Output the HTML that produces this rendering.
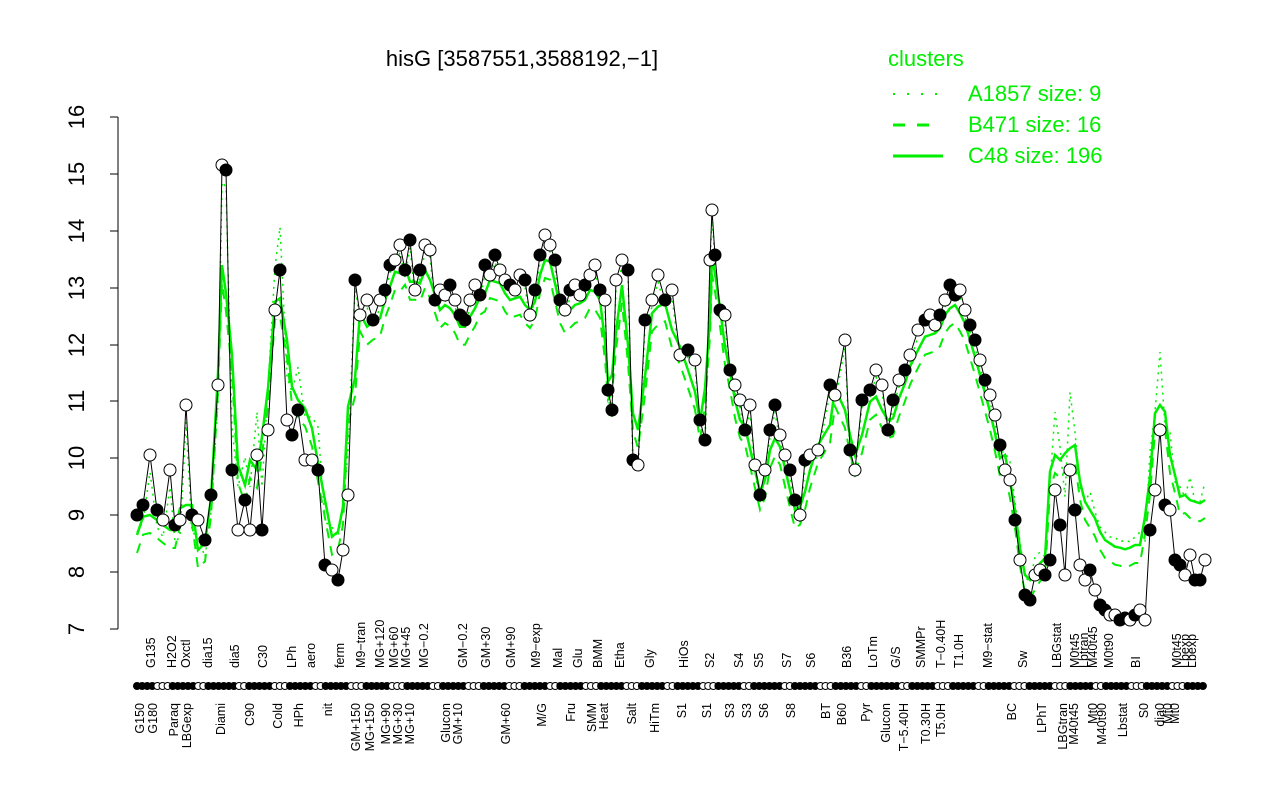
<!DOCTYPE html>
<html><head><meta charset="utf-8"><style>
html,body{margin:0;padding:0;background:#fff}
svg{display:block;font-family:"Liberation Sans",sans-serif}
.u{font-size:12.5px}
</style></head><body>
<svg id="s" width="1280" height="800" xmlns="http://www.w3.org/2000/svg">
<rect width="1280" height="800" fill="#fff"/>
<text x="522" y="66" font-size="22" text-anchor="middle">hisG [3587551,3588192,−1]</text>
<g stroke="#000" stroke-width="1" fill="none">
<line x1="118" y1="117" x2="118" y2="629"/>
<line x1="110" y1="629" x2="118" y2="629"/><line x1="110" y1="572" x2="118" y2="572"/>
<line x1="110" y1="515" x2="118" y2="515"/><line x1="110" y1="458" x2="118" y2="458"/>
<line x1="110" y1="401" x2="118" y2="401"/><line x1="110" y1="345" x2="118" y2="345"/>
<line x1="110" y1="288" x2="118" y2="288"/><line x1="110" y1="231" x2="118" y2="231"/>
<line x1="110" y1="174" x2="118" y2="174"/><line x1="110" y1="117" x2="118" y2="117"/>
</g>
<g font-size="22" text-anchor="middle">
<text transform="translate(84,629) rotate(-90)">7</text>
<text transform="translate(84,572) rotate(-90)">8</text>
<text transform="translate(84,515) rotate(-90)">9</text>
<text transform="translate(84,458) rotate(-90)">10</text>
<text transform="translate(84,401) rotate(-90)">11</text>
<text transform="translate(84,345) rotate(-90)">12</text>
<text transform="translate(84,288) rotate(-90)">13</text>
<text transform="translate(84,231) rotate(-90)">14</text>
<text transform="translate(84,174) rotate(-90)">15</text>
<text transform="translate(84,117) rotate(-90)">16</text>
</g>
<g fill="#00ee00" font-size="22">
<text x="888" y="66">clusters</text>
<text x="968" y="101">A1857 size: 9</text>
<text x="968" y="132">B471 size: 16</text>
<text x="968" y="163">C48 size: 196</text>
</g>
<g stroke="#00ee00" stroke-width="3">
<line x1="893" y1="94" x2="940" y2="94" stroke-dasharray="2,12" stroke-width="2"/>
<line x1="893" y1="125" x2="940" y2="125" stroke-dasharray="12,12"/>
<line x1="893" y1="156" x2="943" y2="156"/>
</g>
<g id="plot"></g>
<g class="u" id="up">
<text transform="translate(155,668) rotate(-90)">G135</text>
<text transform="translate(176,668) rotate(-90)">H2O2</text>
<text transform="translate(190,668) rotate(-90)">Oxctl</text>
<text transform="translate(212,668) rotate(-90)">dia15</text>
<text transform="translate(239,668) rotate(-90)">dia5</text>
<text transform="translate(267,668) rotate(-90)">C30</text>
<text transform="translate(296,668) rotate(-90)">LPh</text>
<text transform="translate(315,668) rotate(-90)">aero</text>
<text transform="translate(344,668) rotate(-90)">ferm</text>
<text transform="translate(365,668) rotate(-90)">M9−tran</text>
<text transform="translate(384,668) rotate(-90)">MG+120</text>
<text transform="translate(398,668) rotate(-90)">MG+60</text>
<text transform="translate(410,668) rotate(-90)">MG+45</text>
<text transform="translate(428,668) rotate(-90)">MG−0.2</text>
<text transform="translate(467,668) rotate(-90)">GM−0.2</text>
<text transform="translate(490,668) rotate(-90)">GM+30</text>
<text transform="translate(515,668) rotate(-90)">GM+90</text>
<text transform="translate(540,668) rotate(-90)">M9−exp</text>
<text transform="translate(562,668) rotate(-90)">Mal</text>
<text transform="translate(582,668) rotate(-90)">Glu</text>
<text transform="translate(602,668) rotate(-90)">BMM</text>
<text transform="translate(624,668) rotate(-90)">Etha</text>
<text transform="translate(654,668) rotate(-90)">Gly</text>
<text transform="translate(688,668) rotate(-90)">HiOs</text>
<text transform="translate(714,668) rotate(-90)">S2</text>
<text transform="translate(743,668) rotate(-90)">S4</text>
<text transform="translate(763,668) rotate(-90)">S5</text>
<text transform="translate(791,668) rotate(-90)">S7</text>
<text transform="translate(815,668) rotate(-90)">S6</text>
<text transform="translate(851,668) rotate(-90)">B36</text>
<text transform="translate(877,668) rotate(-90)">LoTm</text>
<text transform="translate(900,668) rotate(-90)">G/S</text>
<text transform="translate(925,668) rotate(-90)">SMMPr</text>
<text transform="translate(945,668) rotate(-90)">T−0.40H</text>
<text transform="translate(963,668) rotate(-90)">T1.0H</text>
<text transform="translate(992,668) rotate(-90)">M9−stat</text>
<text transform="translate(1027,668) rotate(-90)">Sw</text>
<text transform="translate(1061,668) rotate(-90)">LBGstat</text>
<text transform="translate(1079,668) rotate(-90)">M0t45</text>
<text transform="translate(1088,668) rotate(-90)">Lbtran</text>
<text transform="translate(1097,668) rotate(-90)">M40t45</text>
<text transform="translate(1113,668) rotate(-90)">M0t90</text>
<text transform="translate(1140,668) rotate(-90)">BI</text>
<text transform="translate(1181,668) rotate(-90)">M0t45</text>
<text transform="translate(1189,668) rotate(-90)">Lbexp</text>
<text transform="translate(1196,668) rotate(-90)">Lbexp</text>
</g>
<g class="u" text-anchor="end">
<text transform="translate(144,703) rotate(-90)">G150</text>
<text transform="translate(157,703) rotate(-90)">G180</text>
<text transform="translate(178,703) rotate(-90)">Paraq</text>
<text transform="translate(191,703) rotate(-90)">LBGexp</text>
<text transform="translate(225,703) rotate(-90)">Diami</text>
<text transform="translate(254,703) rotate(-90)">C90</text>
<text transform="translate(282,703) rotate(-90)">Cold</text>
<text transform="translate(303,703) rotate(-90)">HPh</text>
<text transform="translate(332,703) rotate(-90)">nit</text>
<text transform="translate(360,703) rotate(-90)">GM+150</text>
<text transform="translate(374,703) rotate(-90)">MG+150</text>
<text transform="translate(390,703) rotate(-90)">MG+90</text>
<text transform="translate(402,703) rotate(-90)">MG+30</text>
<text transform="translate(414,703) rotate(-90)">MG+10</text>
<text transform="translate(450,703) rotate(-90)">Glucon</text>
<text transform="translate(462,703) rotate(-90)">GM+10</text>
<text transform="translate(510,703) rotate(-90)">GM+60</text>
<text transform="translate(546,703) rotate(-90)">M/G</text>
<text transform="translate(575,703) rotate(-90)">Fru</text>
<text transform="translate(596,703) rotate(-90)">SMM</text>
<text transform="translate(608,703) rotate(-90)">Heat</text>
<text transform="translate(636,703) rotate(-90)">Salt</text>
<text transform="translate(659,703) rotate(-90)">HiTm</text>
<text transform="translate(686,703) rotate(-90)">S1</text>
<text transform="translate(711,703) rotate(-90)">S1</text>
<text transform="translate(734,703) rotate(-90)">S3</text>
<text transform="translate(751,703) rotate(-90)">S3</text>
<text transform="translate(768,703) rotate(-90)">S6</text>
<text transform="translate(795,703) rotate(-90)">S8</text>
<text transform="translate(830,703) rotate(-90)">BT</text>
<text transform="translate(846,703) rotate(-90)">B60</text>
<text transform="translate(870,703) rotate(-90)">Pyr</text>
<text transform="translate(890,703) rotate(-90)">Glucon</text>
<text transform="translate(908,703) rotate(-90)">T−5.40H</text>
<text transform="translate(930,703) rotate(-90)">T0.30H</text>
<text transform="translate(945,703) rotate(-90)">T5.0H</text>
<text transform="translate(1016,703) rotate(-90)">BC</text>
<text transform="translate(1046,703) rotate(-90)">LPhT</text>
<text transform="translate(1067,703) rotate(-90)">LBGtran</text>
<text transform="translate(1078,703) rotate(-90)">M40t45</text>
<text transform="translate(1097,703) rotate(-90)">Mt0</text>
<text transform="translate(1106,703) rotate(-90)">M40t90</text>
<text transform="translate(1127,703) rotate(-90)">Lbstat</text>
<text transform="translate(1148,703) rotate(-90)">S0</text>
<text transform="translate(1164,703) rotate(-90)">dia0</text>
<text transform="translate(1172,703) rotate(-90)">Mt0</text>
<text transform="translate(1179,703) rotate(-90)">Mt0</text>
</g>
</svg>
<script>
var P=[[137,515],[143,505],[150,455],[157,510],[163,520],[170,470],[175,525],[180,520],[186,405],[192,515],[198,520],[205,540],[211,495],[218,385],[222,165],[226,170],[232,470],[238,530],[245,500],[250,530],[257,455],[262,530],[268,430],[275,310],[280,270],[287,420],[292,435],[298,410],[305,460],[312,460],[318,470],[325,565],[332,570],[338,580],[343,550],[348,495],[355,280],[360,315],[367,300],[373,320],[380,300],[385,290],[390,265],[395,260],[400,245],[405,270],[410,240],[415,290],[420,270],[425,245],[430,250],[435,300],[440,290],[445,295],[450,285],[455,300],[460,315],[465,320],[470,300],[475,285],[480,295],[485,265],[490,275],[495,255],[500,270],[505,280],[510,285],[515,290],[520,275],[525,280],[530,315],[535,290],[540,255],[545,235],[550,245],[555,260],[560,300],[565,310],[570,290],[575,285],[580,295],[585,285],[590,275],[595,265],[600,290],[605,300],[608,390],[612,410],[616,280],[622,260],[628,270],[633,460],[638,465],[645,320],[652,300],[658,275],[665,300],[672,290],[680,355],[688,350],[695,360],[700,420],[705,440],[710,260],[712,210],[715,255],[720,310],[725,315],[730,370],[735,385],[740,400],[745,430],[750,405],[755,465],[760,495],[765,470],[770,430],[775,405],[780,435],[785,455],[790,470],[795,500],[800,515],[805,460],[810,455],[818,450],[830,385],[835,395],[845,340],[850,450],[855,470],[862,400],[870,390],[876,370],[882,385],[888,430],[893,400],[899,380],[905,370],[910,355],[918,330],[925,320],[930,315],[935,325],[940,315],[945,300],[950,285],[955,295],[960,290],[965,310],[970,325],[975,340],[980,360],[985,380],[990,395],[995,415],[1000,445],[1005,470],[1010,480],[1015,520],[1020,560],[1025,595],[1030,600],[1035,575],[1040,570],[1045,575],[1050,560],[1055,490],[1060,525],[1065,575],[1070,470],[1075,510],[1080,565],[1085,580],[1090,570],[1095,590],[1100,605],[1105,610],[1110,615],[1115,615],[1120,620],[1125,618],[1130,620],[1135,615],[1140,610],[1145,620],[1150,530],[1155,490],[1160,430],[1165,505],[1170,510],[1175,560],[1180,565],[1185,575],[1190,555],[1195,580],[1200,580],[1205,560]];
var ns="http://www.w3.org/2000/svg",g=document.getElementById("plot");
function el(t,a){var e=document.createElementNS(ns,t);for(var k in a)e.setAttribute(k,a[k]);g.appendChild(e);return e;}
function off(x){if(x<230)return 25;if(x<350)return -35;if(x<1005)return 15;if(x<1050)return -10;return -70;}
function sm(o,w){var r=[];for(var i=0;i<P.length;i++){var s=0,c=0;for(var j=Math.max(0,i-w);j<=Math.min(P.length-1,i+w);j++){s+=P[j][1];c++;}r.push([P[i][0],Math.min(620,s/c+off(P[i][0])+o)]);}return r;}
function pts(a){return a.map(function(p){return p[0]+","+p[1].toFixed(1)}).join(" ");}
el("polyline",{points:pts(sm(0,1)),fill:"none",stroke:"#00ee00","stroke-width":2.5});
el("polyline",{points:pts(sm(18,1)),fill:"none",stroke:"#00ee00","stroke-width":2,"stroke-dasharray":"10,8"});
el("polyline",{points:pts(sm(-8,0)),fill:"none",stroke:"#00ee00","stroke-width":1.5,"stroke-dasharray":"2,5"});
el("polyline",{points:pts(P),fill:"none",stroke:"#000","stroke-width":1});
for(var i=0;i<P.length;i++){var f=(i%3==0||i%5==1)?"#000":"#fff";el("circle",{cx:P[i][0],cy:P[i][1],r:6,fill:f,stroke:"#000","stroke-width":1});}
for(var x=137;x<=1207;x+=5.1){var f=(Math.floor(x/13)%3==0)?"#fff":"#000";el("circle",{cx:x,cy:686,r:3.5,fill:f,stroke:"#000","stroke-width":1});}
</script>
</body></html>
